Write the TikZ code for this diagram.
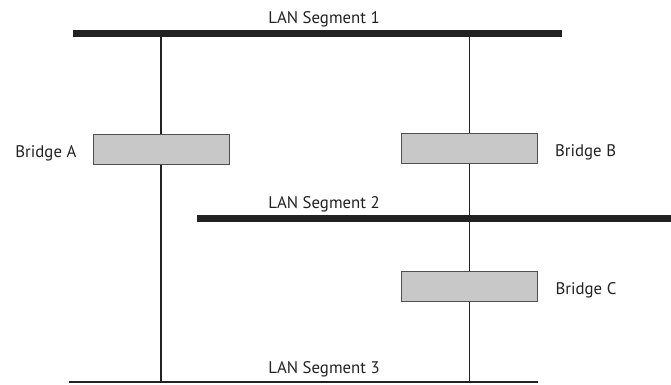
\documentclass[tikz,border=0pt]{standalone}
\usepackage{fontspec}
\setmainfont{PT Sans}
\usetikzlibrary{positioning}
\definecolor{bridgegray}{HTML}{C8C8C8}
\definecolor{edgegray}{HTML}{505050}
\definecolor{wiregray}{HTML}{222222}
\tikzset{
	bridgebox/.style={rectangle, draw=edgegray, fill=bridgegray, line width=0.9pt,
		minimum width=136pt, minimum height=30pt, inner sep=0pt},
	lanbar/.style={line width=7pt, draw=wiregray},
	lanthin/.style={line width=1.6pt, draw=wiregray},
	tapline/.style={line width=1.3pt, draw=wiregray},
	lanlabel/.style={font=\fontsize{16.8}{19}\selectfont, inner sep=0pt, text=wiregray}
}
\begin{document}
\begin{tikzpicture}[x=1pt, y=-1pt, node distance=16pt]
			\useasboundingbox (0,0) rectangle (671,384);
			% segments
			\coordinate (s1w) at (73,33.5);
			\coordinate (s1e) at (562,33.5);
			\coordinate (s2w) at (197,218.5);
			\coordinate (s2e) at (671,218.5);
			\coordinate (s3w) at (69,382.2);
			\coordinate (s3e) at (538,382.2);
			% taps
			\coordinate (a1) at (161,33.5);
			\coordinate (a3) at (161,382);
			\coordinate (b1) at (469.5,33.5);
			\coordinate (b3) at (469.5,382);
			\draw[tapline] (a1) -- (a3);
			\draw[tapline] (b1) -- (b3);
			\draw[lanbar] (s1w) -- (s1e);
			\draw[lanbar] (s2w) -- (s2e);
			\draw[lanthin] (s3w) -- (s3e);
			% bridges
			\node[bridgebox] (brA) at (161,149) {};
			\node[bridgebox] (brB) at (469.5,148.5) {};
			\node[bridgebox] (brC) at (469,286.5) {};
			\node[lanlabel, left=16pt of brA, yshift=-4pt] (lblA) {Bridge A};
			\node[lanlabel, right=17pt of brB, yshift=-4pt] (lblB) {Bridge B};
			\node[lanlabel, right=18pt of brC, yshift=-4pt] (lblC) {Bridge C};
			\node[lanlabel, anchor=base] (lbl1) at (324,23) {LAN Segment 1};
			\node[lanlabel, anchor=base] (lbl2) at (324,208) {LAN Segment 2};
			\node[lanlabel, anchor=base] (lbl3) at (324,373) {LAN Segment 3};
		\end{tikzpicture}
\end{document}
